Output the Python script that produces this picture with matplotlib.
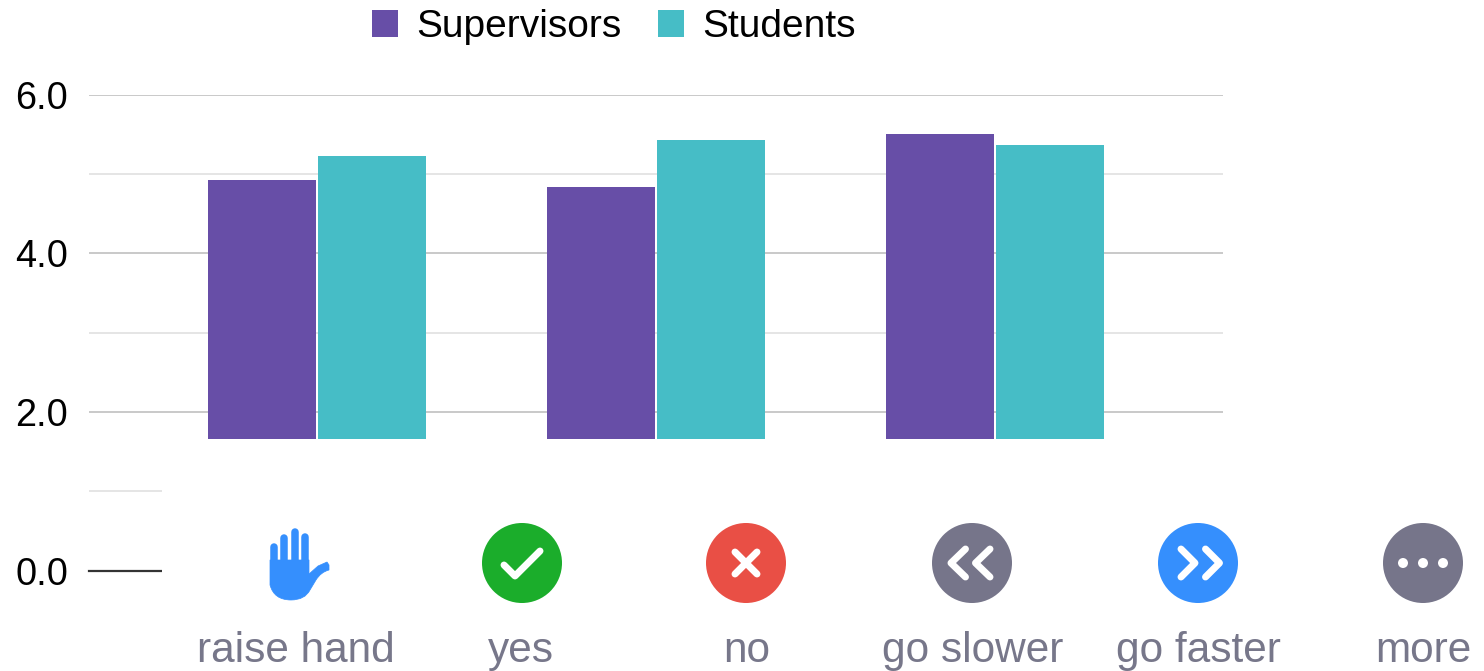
"""Supervisor vs student ratings with the meeting toolbar screenshot laid over the axis."""

import matplotlib

matplotlib.use("Agg")
import matplotlib.pyplot as plt  # noqa: E402
import numpy as np  # noqa: E402
from matplotlib.patches import Circle, PathPatch, Rectangle  # noqa: E402
from matplotlib.path import Path  # noqa: E402

W, H = 1484, 671
PURPLE = "#674ea7"
TEAL = "#46bdc6"
ICON_GREY = "#76758a"
ICON_BLUE = "#358ffd"
LABEL_GREY = "#77778a"

series_names = ["Supervisors", "Students"]
supervisors = [4.92, 4.84, 5.50]
students = [5.22, 5.43, 5.36]
major_ticks = [0.0, 2.0, 4.0, 6.0]
minor_ticks = [1.0, 3.0, 5.0]
icon_labels = ["raise hand", "yes", "no", "go slower", "go faster", "more"]

plt.rcParams["font.family"] = ["Liberation Sans", "DejaVu Sans"]

fig = plt.figure(figsize=(W / 100, H / 100), dpi=100, facecolor="white")
ax = fig.add_axes([89 / W, 1 - 570.6 / H, (1223 - 89) / W, (570.6 - 94.6) / H])

x = np.arange(len(supervisors))
ax.bar(x - 0.1625, supervisors, 0.319, color=PURPLE, label=series_names[0], zorder=3)
ax.bar(x + 0.1625, students, 0.319, color=TEAL, label=series_names[1], zorder=3)
ax.set_xlim(-0.672, 2.673)
ax.set_ylim(0, 6)
ax.set_xticks([])
ax.set_yticks(major_ticks, [f"{v:.1f}" for v in major_ticks])
ax.set_yticks(minor_ticks, minor=True)
ax.tick_params(axis="y", which="both", length=0, labelsize=27.4, pad=15)
ax.grid(axis="y", which="major", color="#c9c9c9", lw=1.4, zorder=1)
ax.grid(axis="y", which="minor", color="#e5e5e5", lw=1.4, zorder=1)
for spine in ax.spines.values():
    spine.set_visible(False)
ax.axhline(0, color="#333333", lw=1.6, zorder=2, clip_on=False)

ax.legend(
    loc="center",
    bbox_to_anchor=(614 / W, 1 - 27 / H),
    bbox_transform=fig.transFigure,
    ncols=2,
    frameon=False,
    fontsize=28,
    handlelength=0.67,
    handleheight=0.67,
    handletextpad=0.47,
    columnspacing=0.92,
    borderpad=0,
    borderaxespad=0,
)

# toolbar screenshot pasted over the bottom of the chart, in pixel coordinates
top = fig.add_axes([0, 0, 1, 1], facecolor="none")
top.set_xlim(0, W)
top.set_ylim(H, 0)
top.axis("off")
top.add_patch(Rectangle((162, 439), W - 162, H - 439, color="white", lw=0))

centers = [298, 522, 746, 972, 1198, 1423]
label_x = [296, 521, 747, 973, 1198, 1423]
for cx, name in zip(label_x, icon_labels):
    top.text(cx, 651, name, color=LABEL_GREY, fontsize=30.5, ha="center", va="center", family="Liberation Sans")

# hand
for fx, fy in zip([274, 284, 295, 305], [547, 538, 532, 537]):
    top.plot([fx, fx], [fy, 575], color=ICON_BLUE, lw=5.4, solid_capstyle="round")
palm = Path(
    [(270, 560), (270, 585), (274, 600), (291, 600), (305, 600), (310, 590), (316, 580), (321, 572), (329, 570),
     (329, 565), (327, 562), (318, 566), (309, 574), (309, 560), (270, 560)],
    [Path.MOVETO, Path.LINETO, Path.CURVE3, Path.CURVE3, Path.CURVE3, Path.CURVE3, Path.LINETO, Path.CURVE3,
     Path.CURVE3, Path.LINETO, Path.LINETO, Path.LINETO, Path.LINETO, Path.LINETO, Path.CLOSEPOLY],
)
top.add_patch(PathPatch(palm, facecolor=ICON_BLUE, edgecolor=ICON_BLUE, lw=0.5))

for cx, color in zip(centers[1:], ["#1bad2b", "#e94f45", ICON_GREY, ICON_BLUE, ICON_GREY]):
    top.add_patch(Circle((cx, 563), 40, color=color, lw=0))

stroke = {"color": "white", "lw": 5.0, "solid_capstyle": "round", "solid_joinstyle": "round"}
top.plot([504, 515, 540], [565, 576, 551], **stroke)
top.plot([735, 757], [552, 574], **stroke)
top.plot([735, 757], [574, 552], **stroke)
for dx in [0, 24.5]:
    top.plot([965.5 + dx, 951 + dx, 965.5 + dx], [549, 563, 577], **stroke)
    top.plot([1181 + dx, 1195 + dx, 1181 + dx], [549, 563, 577], **stroke)
for dx in [-20, 0, 20]:
    top.add_patch(Circle((1423 + dx, 563), 5, color="white", lw=0))

fig.savefig("out.png", dpi=100)
plt.close(fig)
